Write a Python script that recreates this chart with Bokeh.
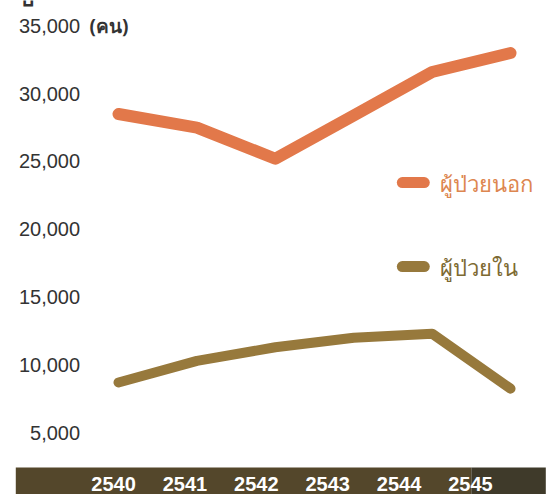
from bokeh.plotting import figure
from bokeh.models import Range1d, BoxAnnotation
from bokeh.core.properties import value
from bokeh.embed import file_html
from bokeh.resources import INLINE

# Patients per year (Buddhist Era years)
years = ["2540", "2541", "2542", "2543", "2544", "2545"]
outpatients = [28500, 27500, 25200, 28400, 31600, 33000]
inpatients = [8700, 10300, 11300, 12000, 12300, 8250]
y_ticks = [5000, 10000, 15000, 20000, 25000, 30000, 35000]
series_names = ["ผู้ป่วยนอก", "ผู้ป่วยใน"]
unit_label = "(คน)"

ORANGE = "#e2784a"
BROWN = "#97793c"
ORANGE_TEXT = "#dd8650"
BROWN_TEXT = "#7d6a32"
BAND = "#54472b"
BAND_DARK = "#3f3a2a"
FONT = "Liberation Sans"

xs = list(range(len(years)))

p = figure(width=558, height=494, output_backend="svg", toolbar_location=None,
           x_range=Range1d(-1.505, 5.612), y_range=Range1d(442, 36873),
           min_border=0, border_fill_color="white", outline_line_color=None)
p.axis.visible = False
p.grid.visible = False

# bottom band for the year labels
p.extra_x_ranges["band"] = Range1d(-1.583, 6.233)
p.add_layout(BoxAnnotation(left=-1.31, right=4.5, top=2430, bottom=-100,
                           fill_color=BAND, fill_alpha=1, line_color=None,
                           level="underlay"))
p.add_layout(BoxAnnotation(left=4.5, right=5.45, top=2430, bottom=-100,
                           fill_color=BAND_DARK, fill_alpha=1, line_color=None,
                           level="underlay"))
p.text(x=list(range(len(years))), y=[1250] * len(years), text=years,
       x_range_name="band", text_align="center", text_baseline="middle",
       text_font=value(FONT), text_font_style="bold", text_font_size="20px",
       text_color="white")

# y tick labels, right aligned
p.text(x=[-0.49] * len(y_ticks), y=y_ticks, text=[f"{v:,}" for v in y_ticks],
       text_align="right", text_baseline="middle", text_font=value(FONT),
       text_font_size="20px", text_color="#333333")
p.text(x=[-0.37], y=[y_ticks[-1]], text=[unit_label], text_align="left",
       text_baseline="middle", text_font=value("Noto Sans"), text_font_style="bold",
       text_font_size="19px", text_color="#333333")
# clipped title glyph at the very top
p.text(x=[-1.25], y=[36050], text=["ปี"], text_align="left", text_baseline="bottom",
       text_font=value("Noto Sans"), text_font_style="bold", text_font_size="22px",
       text_color="#333333")

# series lines
p.line(xs, outpatients, line_color=ORANGE, line_width=12,
       line_cap="round", line_join="round")
p.line(xs, inpatients, line_color=BROWN, line_width=10,
       line_cap="round", line_join="round")

# legend drawn by hand so each label can keep its series colour
leg_y = [23450, 17250]
for yy, col, tcol, name in zip(leg_y, [ORANGE, BROWN], [ORANGE_TEXT, BROWN_TEXT],
                               series_names):
    p.line([3.62, 3.9], [yy, yy], line_color=col, line_width=11, line_cap="round")
    p.text(x=[4.1], y=[yy], text=[name], text_align="left", text_baseline="middle",
           text_font=value("Noto Sans"), text_font_size="22px", text_color=tcol)

open("out.html", "w").write(file_html(p, INLINE))
